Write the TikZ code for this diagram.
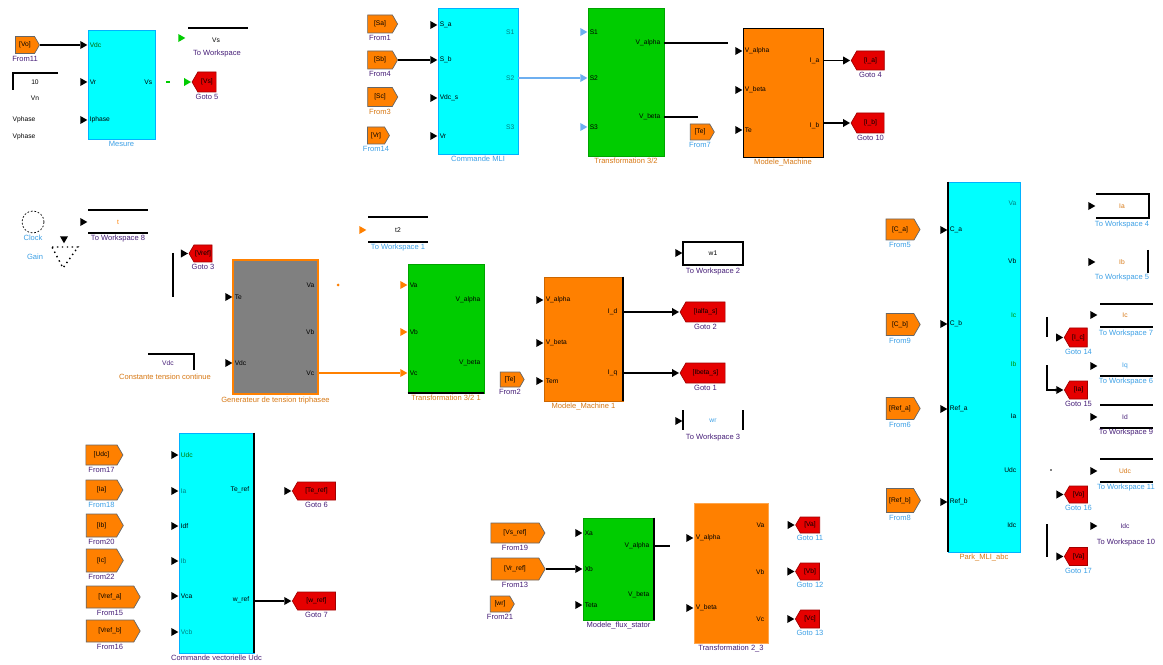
\documentclass[tikz,border=0pt]{standalone}
\usepackage{fontspec}
\setmainfont{Liberation Sans}
\usetikzlibrary{positioning}
\usetikzlibrary{shapes.geometric,shapes.symbols,arrows.meta}

\definecolor{simcyan}{RGB}{0,255,255}
\definecolor{simgreen}{RGB}{0,204,0}
\definecolor{simorange}{RGB}{255,128,0}
\definecolor{simred}{RGB}{230,0,0}
\definecolor{simgray}{RGB}{128,128,128}
\definecolor{simblue}{RGB}{110,175,240}
\definecolor{lblpurple}{RGB}{70,30,120}
\definecolor{lblblue}{RGB}{60,160,230}
\definecolor{lblorange}{RGB}{215,120,20}

\begin{document}
\begin{tikzpicture}[x=0.2mm, y=-0.2mm]
    \tikzset{
    blk/.style 2 args=
    {
        inner sep=0,
        minimum width=#1*0.2mm,
        minimum height=#2*0.2mm
    },
    cyanblk/.style={fill=simcyan, draw=simcyan!70!blue},
    greenblk/.style={fill=simgreen, draw=simgreen!80!black},
    orangeblk/.style={fill=simorange, draw=simorange!80!black},
    grayblk/.style={fill=simgray, draw=simorange, line width=1pt},
    fromtag/.style 2 args=
    {
        signal, signal to=east,
        signal pointer angle=120,
        blk={#1}{#2},
        fill=simorange, draw=black!60,
        font=\fontsize{3.8}{4}\selectfont
    },
    gototag/.style 2 args=
    {
        signal, signal to=west,
        signal pointer angle=120,
        blk={#1}{#2},
        fill=simred, draw=simred!70!black,
        font=\fontsize{3.8}{4}\selectfont
    },
    pmark/.style=
    {
        isosceles triangle,
        isosceles triangle apex angle=60,
        fill=black,
        inner sep=0,
        minimum size=1.4mm,
        anchor=apex
    },
    plbl/.style={font=\fontsize{3.8}{4}\selectfont, inner sep=0.8pt},
    lbl/.style={font=\fontsize{4.3}{5}\selectfont, inner sep=1pt, text=lblpurple},
    lbll/.style={lbl, text=lblblue},
    lblo/.style={lbl, text=lblorange},
    wire/.style={line width=0.6pt},
    edge/.style={line width=1.2pt}
}

  \path[use as bounding box, fill=white] (0,0) rectangle (1163,665);

  % Mesure
  \node[blk={67}{109}, cyanblk, label={[lbll]below:Mesure}] (mesure) at (121.5,84.5) {};
  \node[pmark, label={[plbl,text=simgreen!50!black]right:Vdc}] (mesI1) at (88,45) {};
  \node[pmark, label={[plbl]right:Vr}] (mesI2) at (88,82) {};
  \node[pmark, label={[plbl]right:Iphase}] (mesI3) at (88,120) {};
  \node[plbl, anchor=east] (mesO1) at (154,82) {Vs};
  \node[fromtag={24}{17}, label={[lbl]below:From11}] (from11) at (25,45) {[Vo]};
  \draw[wire] (from11.east) -- (mesI1.west);
  \draw[thick] (58,73) -- (13,73) -- (13,90);
  \node[plbl] (cstVal) at (35,82) {10};
  \node[plbl] (cstLbl) at (35,98) {Vn};
  \node[plbl] (vph1) at (24,120) {Vphase};
  \node[plbl] (vph2) at (24,137) {Vphase};
  \draw[thick] (188,28) -- (248,28);
  \node[pmark, fill=simgreen] (twsI) at (186,38) {};
  \node[plbl] (twsVs) at (216,40) {Vs};
  \node[lbl] (twsLbl) at (217,54) {To Workspace};
  \draw[simgreen, thick] (166,82) -- (170,82);
  \node[gototag={24}{20}, label={[lbl]below:Goto 5}] (goto5) at (207,82) {[Vs]};
  \node[pmark, fill=simgreen] (goto5I) at (goto5.west) {};

  % Commande MLI
  \node[blk={80}{146}, cyanblk, label={[lbll]below:Commande MLI}] (cmd) at (478,81) {};
  \node[pmark, label={[plbl]right:S\_a}] (cmdI1) at (438,25) {};
  \node[pmark, label={[plbl]right:S\_b}] (cmdI2) at (438,60) {};
  \node[pmark, label={[plbl]right:Vdc\_s}] (cmdI3) at (438,98) {};
  \node[pmark, label={[plbl]right:Vr}] (cmdI4) at (438,136) {};
  \node[plbl, anchor=east, text=teal] (cmdO1) at (516,32) {S1};
  \node[plbl, anchor=east, text=teal] (cmdO2) at (516,78) {S2};
  \node[plbl, anchor=east, text=teal] (cmdO3) at (516,127) {S3};
  \node[fromtag={30}{18}, label={[lbl]below:From1}] (from1) at (380,24) {[Sa]};
  \node[fromtag={30}{18}, label={[lbl]below:From4}] (from4) at (380,60) {[Sb]};
  \node[fromtag={30}{19}, label={[lblo]below:From3}] (from3) at (380,97) {[Sc]};
  \node[fromtag={22}{17}, label={[lbll]below:From14}] (from14) at (376,135.5) {[Vr]};
  \draw[wire] (from4.east) -- (cmdI2.west);

  % Transformation 3/2
  \node[blk={76}{148}, greenblk, label={[lblo]below:Transformation 3/2}] (tr) at (626,82) {};
  \node[pmark, fill=simblue, label={[plbl]right:S1}] (trI1) at (588,32) {};
  \node[pmark, fill=simblue, label={[plbl]right:S2}] (trI2) at (588,78) {};
  \node[pmark, fill=simblue, label={[plbl]right:S3}] (trI3) at (588,127) {};
  \node[plbl, anchor=east] (trO1) at (662,43) {V\_alpha};
  \node[plbl, anchor=east] (trO2) at (662,117) {V\_beta};
  \draw[wire, simblue] (cmd.east |- cmdO2) -- (trI2.west);
  \coordinate (trE1) at (728,43);
  \coordinate (trE2) at (698,117);
  \draw[wire] (tr.east |- trO1) -- (trE1);
  \draw[wire] (tr.east |- trO2) -- (trE2);
  \node[fromtag={24}{16}, label={[lbll]below:From7}] (from7) at (700,132) {[Te]};

  % Modele_Machine
  \node[blk={80}{129}, orangeblk, draw=black, label={[lblo]below:Modele\_Machine}] (mm) at (783,92.5) {};
  \node[pmark, label={[plbl]right:V\_alpha}] (mmI1) at (743,51) {};
  \node[pmark, label={[plbl]right:V\_beta}] (mmI2) at (743,90) {};
  \node[pmark, label={[plbl]right:Te}] (mmI3) at (743,130) {};
  \node[plbl, anchor=east] (mmO1) at (821,61) {I\_a};
  \node[plbl, anchor=east] (mmO2) at (821,126) {I\_b};
  \node[gototag={33}{19}, label={[lbl]below:Goto 4}] (goto4) at (870.5,60.5) {[I\_a]};
  \node[gototag={33}{20}, label={[lbl]below:Goto 10}] (goto10) at (870.5,123) {[I\_b]};
  \node[pmark] (goto4I) at (goto4.west) {};
  \node[pmark] (goto10I) at (goto10.west) {};
  \draw[wire] (mm.east |- goto4I) -- (goto4I.west);
  \draw[wire] (mm.east |- goto10I) -- (goto10I.west);

  % Clock / generateur
  \node[circle, draw, dash pattern=on 1pt off 1pt, inner sep=0, minimum size=22*0.2mm, label={[lbll]below:Clock}] (clock) at (33,222) {};
  \draw[thick] (88,210) -- (148,210);
  \draw[thick] (88,233) -- (148,233);
  \node[pmark] (tw8I) at (88,222) {};
  \node[plbl, text=simorange] (tw8t) at (118,222) {t};
  \node[lbl] (tw8L) at (118,239) {To Workspace 8};
  \node[pmark, shape border rotate=-90] (gainI) at (64,244) {};
  \draw[dotted, thick] (52,247) -- (78,247) -- (63,268) -- cycle;
  \node[lbll] (gainL) at (35,257) {Gain};
  \node[gototag={23}{17}, label={[lbl]below:Goto 3}] (goto3) at (203,253.5) {[Vref]};
  \node[pmark] (goto3I) at (goto3.west) {};
  \draw[thick] (173,253) -- (173,297);

  \node[blk={85}{134}, grayblk, label={[lblo]below:Generateur de tension triphasee}] (gen) at (275.5,327) {};
  \node[pmark, label={[plbl]right:Te}] (genI1) at (233,297) {};
  \node[pmark, label={[plbl]right:Vdc}] (genI2) at (233,363) {};
  \node[plbl, anchor=east] (genO1) at (316,285) {Va};
  \node[plbl, anchor=east] (genO2) at (316,332) {Vb};
  \node[plbl, anchor=east] (genO3) at (316,373) {Vc};
  \fill[simorange] (338,285) circle (1.5);
  \draw[thick] (148,354) -- (194,354) -- (194,370);
  \node[plbl, text=lblpurple] (cstVdc) at (168,363) {Vdc};
  \node[lblo] (cstVdcL) at (165,377) {Constante tension continue};

  \draw[thick] (368,217) -- (428,217);
  \draw[thick] (368,242) -- (428,242);
  \node[pmark, fill=simorange] (tw1I) at (367,230) {};
  \node[plbl] (tw1t) at (398,230) {t2};
  \node[lbll] (tw1L) at (398,248) {To Workspace 1};

  % Transformation 3/2 1
  \node[blk={76}{129}, greenblk, label={[lblo]below:Transformation 3/2 1}] (tra) at (446,328.5) {};
  \draw[edge] (tra.south west) -- (tra.south east);
  \node[pmark, fill=simorange, label={[plbl]right:Va}] (traI1) at (408,285) {};
  \node[pmark, fill=simorange, label={[plbl]right:Vb}] (traI2) at (408,332) {};
  \node[pmark, fill=simorange, label={[plbl]right:Vc}] (traI3) at (408,373) {};
  \node[plbl, anchor=east] (traO1) at (482,300) {V\_alpha};
  \node[plbl, anchor=east] (traO2) at (482,363) {V\_beta};
  \draw[wire, simorange] (gen.east |- genO3) -- (traI3.west);
  \node[fromtag={24}{15}, label={[lbl]below:From2}] (from2) at (510,379.5) {[Te]};

  % Modele_Machine 1
  \node[blk={79}{124}, orangeblk, label={[lblo]below:Modele\_Machine 1}] (mma) at (583.5,339) {};
  \draw[edge] (mma.north east) -- (mma.south east);
  \node[pmark, label={[plbl]right:V\_alpha}] (mmaI1) at (544,300) {};
  \node[pmark, label={[plbl]right:V\_beta}] (mmaI2) at (544,343) {};
  \node[pmark, label={[plbl]right:Tem}] (mmaI3) at (544,381) {};
  \node[plbl, anchor=east] (mmaO1) at (619,312) {I\_d};
  \node[plbl, anchor=east] (mmaO2) at (619,373) {I\_q};
  \node[gototag={45}{20}, label={[lbl]below:Goto 2}] (goto2) at (705.5,312) {[Ialfa\_s]};
  \node[gototag={45}{20}, label={[lbl]below:Goto 1}] (goto1) at (705.5,373) {[Ibeta\_s]};
  \node[pmark] (goto2I) at (goto2.west) {};
  \node[pmark] (goto1I) at (goto1.west) {};
  \draw[wire] (mma.east |- goto2I) -- (goto2I.west);
  \draw[wire] (mma.east |- goto1I) -- (goto1I.west);
  \draw[thick] (683,242) rectangle (743,265);
  \node[pmark] (tw2I) at (683,253) {};
  \node[plbl] (tw2t) at (713,253) {w1};
  \node[lbl] (tw2L) at (713,272) {To Workspace 2};
  \draw[thick] (683,410) -- (683,430);
  \draw[thick] (743,410) -- (743,430);
  \node[pmark] (tw3I) at (683,421) {};
  \node[plbl, text=lblblue] (tw3t) at (713,421) {wr};
  \node[lbl] (tw3L) at (713,438) {To Workspace 3};

  % Park_MLI_abc
  \node[blk={72}{370}, cyanblk, label={[lblo]below:Park\_MLI\_abc}] (park) at (984,367) {};
  \draw[edge] (park.north west) -- (park.south west);
  \node[pmark, label={[plbl]right:C\_a}] (parkI1) at (948,230) {};
  \node[pmark, label={[plbl]right:C\_b}] (parkI2) at (948,324) {};
  \node[pmark, label={[plbl]right:Ref\_a}] (parkI3) at (948,409) {};
  \node[pmark, label={[plbl]right:Ref\_b}] (parkI4) at (948,502) {};
  \node[plbl, anchor=east, text=teal] (parkO1) at (1018,203) {Va};
  \node[plbl, anchor=east] (parkO2) at (1018,261) {Vb};
  \node[plbl, anchor=east, text=simgreen!70!black] (parkO3) at (1018,315) {Ic};
  \node[plbl, anchor=east, text=simgreen!70!black] (parkO4) at (1018,364) {Ib};
  \node[plbl, anchor=east] (parkO5) at (1018,416) {Ia};
  \node[plbl, anchor=east] (parkO6) at (1018,470) {Udc};
  \node[plbl, anchor=east] (parkO7) at (1018,525) {Idc};
  \node[fromtag={34}{21}, label={[lbll]below:From5}] (from5) at (900,229.5) {[C\_a]};
  \node[fromtag={34}{22}, label={[lbll]below:From9}] (from9) at (900,324.5) {[C\_b]};
  \node[fromtag={34}{22}, label={[lbll]below:From6}] (from6) at (900,408.5) {[Ref\_a]};
  \node[fromtag={34}{24}, label={[lbll]below:From8}] (from8) at (900,500.5) {[Ref\_b]};

  \draw[thick] (1096,194) -- (1149,194) -- (1149,218) -- (1096,218);
  \node[pmark] (tw4I) at (1096,206) {};
  \node[plbl, text=lblorange] (tw4t) at (1122,206) {Ia};
  \node[lbll] (tw4L) at (1122,225) {To Workspace 4};
  \draw[thick] (1148,250) -- (1148,273);
  \node[pmark] (tw5I) at (1096,262) {};
  \node[plbl, text=lblorange] (tw5t) at (1122,262) {Ib};
  \node[lbll] (tw5L) at (1122,278) {To Workspace 5};
  \draw[thick] (1100,304) -- (1153,304);
  \draw[thick] (1100,327) -- (1153,327);
  \node[pmark] (tw7I) at (1098,315) {};
  \node[plbl, text=lblorange] (tw7t) at (1125,315) {Ic};
  \node[lbll] (tw7L) at (1126,334) {To Workspace 7};
  \node[pmark] (tw6I) at (1098,366) {};
  \node[plbl, text=lblblue] (tw6t) at (1125,366) {Iq};
  \draw[thick] (1100,376) -- (1153,376);
  \node[lbll] (tw6L) at (1126,382) {To Workspace 6};
  \draw[thick] (1100,405) -- (1153,405);
  \draw[thick] (1100,428) -- (1153,428);
  \node[pmark] (tw9I) at (1098,417) {};
  \node[plbl, text=lblpurple] (tw9t) at (1125,417) {Id};
  \node[lbl] (tw9L) at (1126,433) {To Workspace 9};
  \draw[thick] (1100,459) -- (1153,459);
  \draw[thick] (1100,482) -- (1153,482);
  \node[pmark] (tw11I) at (1098,471) {};
  \node[plbl, text=lblorange] (tw11t) at (1125,471) {Udc};
  \node[lbll] (tw11L) at (1126,488) {To Workspace 11};
  \node[pmark] (tw10I) at (1098,526) {};
  \node[plbl, text=lblpurple] (tw10t) at (1125,526) {Idc};
  \node[lbl] (tw10L) at (1126,543) {To Workspace 10};

  \node[gototag={23}{19}, label={[lbll]below:Goto 14}] (goto14) at (1078.5,337.5) {[I\_c]};
  \node[gototag={23}{18}, label={[lbl]below:Goto 15}] (goto15) at (1078.5,390) {[Ia]};
  \node[gototag={23}{17}, label={[lbll]below:Goto 16}] (goto16) at (1078.5,494.5) {[Vo]};
  \node[gototag={23}{18}, label={[lbll]below:Goto 17}] (goto17) at (1078.5,556.5) {[Va]};
  \node[pmark] (goto14I) at (goto14.west) {};
  \node[pmark] (goto15I) at (goto15.west) {};
  \node[pmark] (goto16I) at (goto16.west) {};
  \node[pmark] (goto17I) at (goto17.west) {};
  \coordinate (b14) at (1047,317);
  \coordinate (b15) at (1047,365);
  \coordinate (b17) at (1047,524);
  \draw[thick] (b14) -- ++(0,20);
  \draw[wire] (b15) |- (goto15I.west);
  \fill (goto15I.west) circle (1.5);
  \draw[thick] (b17) -- ++(0,33);
  \fill (1051,470) circle (0.8);

  % Commande vectorielle
  \node[blk={75}{220}, cyanblk, label={[lbl]below:Commande vectorielle Udc}] (cv) at (216.5,543) {};
  \draw[edge] (cv.north east) -- (cv.south east);
  \node[pmark, label={[plbl,text=simgreen!60!black]right:Udc}] (cvI1) at (179,455) {};
  \node[pmark, label={[plbl,text=teal]right:Ia}] (cvI2) at (179,491) {};
  \node[pmark, label={[plbl]right:Idf}] (cvI3) at (179,526) {};
  \node[pmark, label={[plbl,text=teal]right:Ib}] (cvI4) at (179,561) {};
  \node[pmark, label={[plbl]right:Vca}] (cvI5) at (179,596) {};
  \node[pmark, label={[plbl,text=teal]right:Vcb}] (cvI6) at (179,632) {};
  \node[plbl, anchor=east] (cvO1) at (251,490) {Te\_ref};
  \node[plbl, anchor=east] (cvO2) at (251,600) {w\_ref};
  \node[fromtag={37}{20}, label={[lbl]below:From17}] (from17) at (101.5,455) {[Udc]};
  \node[fromtag={37}{20}, label={[lbll]below:From18}] (from18) at (101.5,490) {[Ia]};
  \node[fromtag={37}{23}, label={[lbl]below:From20}] (from20) at (101.5,525.5) {[Ib]};
  \node[fromtag={37}{23}, label={[lbl]below:From22}] (from22) at (101.5,560.5) {[Ic]};
  \node[fromtag={54}{22}, label={[lbl]below:From15}] (from15) at (110,597) {[Vref\_a]};
  \node[fromtag={54}{22}, label={[lbl]below:From16}] (from16) at (110,631) {[Vref\_b]};
  \node[gototag={43}{18}, label={[lbl]below:Goto 6}] (goto6) at (316.5,491) {[Te\_ref]};
  \node[gototag={43}{18}, label={[lbl]below:Goto 7}] (goto7) at (316.5,601) {[w\_ref]};
  \node[pmark] (goto6I) at (goto6.west) {};
  \node[pmark] (goto7I) at (goto7.west) {};
  \draw[wire] (cv.east |- goto7I) -- (goto7I.west);

  % Modele flux / Transformation 2_3
  \node[fromtag={54}{20}, label={[lbl]below:From19}] (from19) at (515,533) {[Vs\_ref]};
  \node[fromtag={54}{22}, label={[lbl]below:From13}] (from13) at (515,569) {[Vr\_ref]};
  \node[fromtag={24}{16}, label={[lbl]below:From21}] (from21) at (500,604) {[wr]};
  \node[blk={71}{102}, greenblk, label={[lbl]below:Modele\_flux\_stator}] (mf) at (618.5,569) {};
  \draw[edge] (mf.north east) -- (mf.south east);
  \node[pmark, label={[plbl]right:Xa}] (mfI1) at (583,533) {};
  \node[pmark, label={[plbl]right:Xb}] (mfI2) at (583,569) {};
  \node[pmark, label={[plbl]right:Teta}] (mfI3) at (583,605) {};
  \node[plbl, anchor=east] (mfO1) at (651,546) {V\_alpha};
  \node[plbl, anchor=east] (mfO2) at (651,595) {V\_beta};
  \draw[wire] (from13.east) -- (mfI2.west);
  \coordinate (mfE1) at (670,546);
  \draw[wire] (mf.east |- mfO1) -- (mfE1);

  \node[blk={74}{140}, orangeblk, draw=simorange!70!white, label={[lbl]below:Transformation 2\_3}] (tb) at (731,573) {};
  \node[pmark, label={[plbl]right:V\_alpha}] (tbI1) at (694,538) {};
  \node[pmark, label={[plbl]right:V\_beta}] (tbI2) at (694,608) {};
  \node[plbl, anchor=east] (tbO1) at (766,525) {Va};
  \node[plbl, anchor=east] (tbO2) at (766,572) {Vb};
  \node[plbl, anchor=east] (tbO3) at (766,619) {Vc};
  \node[gototag={24}{16}, label={[lbll]below:Goto 11}] (goto11) at (810,525) {[Va]};
  \node[gototag={24}{17}, label={[lbll]below:Goto 12}] (goto12) at (810,571.5) {[Vb]};
  \node[gototag={24}{18}, label={[lbll]below:Goto 13}] (goto13) at (810,619) {[Vc]};
  \node[pmark] (goto11I) at (goto11.west) {};
  \node[pmark] (goto12I) at (goto12.west) {};
  \node[pmark] (goto13I) at (goto13.west) {};

\end{tikzpicture}
\end{document}
